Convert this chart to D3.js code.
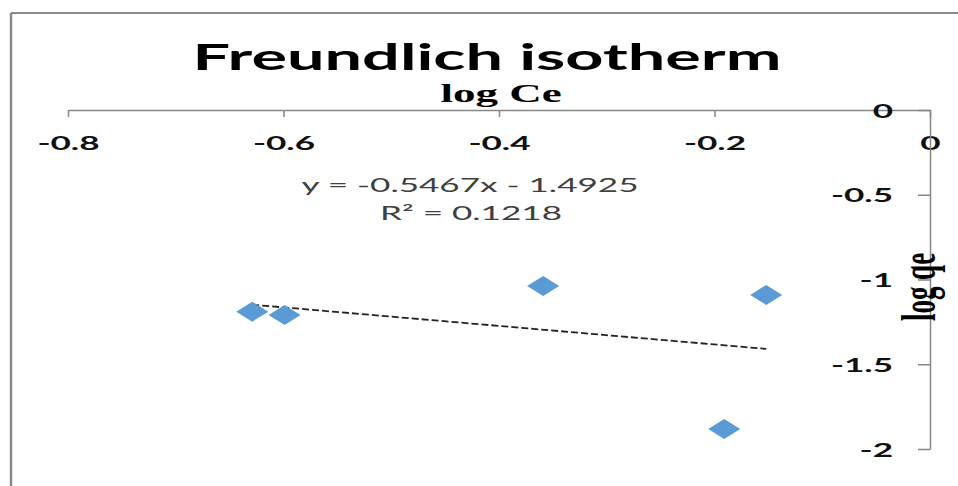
<!DOCTYPE html>
<html>
<head>
<meta charset="utf-8">
<script src="https://cdnjs.cloudflare.com/ajax/libs/d3/7.8.5/d3.min.js"></script>
<style>
  body { margin: 0; background: #fff; }
  svg { display: block; }
</style>
</head>
<body>
<div id="chart"></div>
<script>
// data
const logCe = [-0.629, -0.599, -0.359, -0.152, -0.191]
const logQe = [-1.19, -1.21, -1.038, -1.091, -1.882]
const xTicks = [-0.8, -0.6, -0.4, -0.2, 0]
const yTicks = [0, -0.5, -1, -1.5, -2]
const slope = -0.5467
const intercept = -1.4925
const eqLabel = 'y = -0.5467x - 1.4925'
const r2Label = 'R\u00b2 = 0.1218'

const width = 958, height = 486
const sx = 1.8   // the picture is stretched sideways

const svg = d3.select('#chart').append('svg')
  .attr('width', width)
  .attr('height', height)

// chart border (only top and left show)
svg.append('line').attr('x1', 11).attr('y1', 13).attr('x2', width).attr('y2', 13)
  .attr('stroke', '#8a8a8a').attr('stroke-width', 2)
svg.append('line').attr('x1', 11).attr('y1', 13).attr('x2', 11).attr('y2', height)
  .attr('stroke', '#8a8a8a').attr('stroke-width', 2.5)

const x = d3.scaleLinear().domain([-0.8, 0]).range([68, 930])
const y = d3.scaleLinear().domain([0, -2]).range([110, 449])

function addText(px, py, str, font, size, weight, fill, anchor) {
  return svg.append('text')
    .attr('transform', `translate(${px},${py}) scale(${sx},1)`)
    .attr('text-anchor', anchor || 'middle')
    .style('font-family', font)
    .style('font-size', size + 'px')
    .style('font-weight', weight)
    .attr('fill', fill)
    .text(str)
}

// x axis on top
const xAxis = svg.append('g')
  .attr('transform', `translate(0,${y(0)})`)
  .call(d3.axisBottom(x).tickValues(xTicks).tickSize(7).tickSizeOuter(0).tickFormat(d => String(d)))
xAxis.select('.domain').attr('stroke', '#868686').attr('stroke-width', 1.5)
xAxis.selectAll('.tick line').attr('stroke', '#868686').attr('stroke-width', 1.5)
xAxis.selectAll('.tick text')
  .attr('y', null).attr('dy', null)
  .attr('transform', `translate(0,40) scale(${sx},1)`)
  .style('font-family', 'Lato')
  .style('font-size', '19.5px')
  .style('font-weight', 'bold')
  .attr('fill', '#111')

// y axis on the right end
const yAxis = svg.append('g')
  .attr('transform', `translate(${x(0)},0)`)
  .call(d3.axisLeft(y).tickValues(yTicks).tickSize(12).tickSizeOuter(0).tickFormat(d => String(d)))
yAxis.select('.domain').attr('stroke', '#868686').attr('stroke-width', 1.5)
yAxis.selectAll('.tick line').attr('stroke', '#868686').attr('stroke-width', 1.5)
yAxis.selectAll('.tick text')
  .attr('x', null).attr('dy', null)
  .attr('transform', `translate(-37,7) scale(${sx},1)`)
  .attr('text-anchor', 'end')
  .style('font-family', 'Lato')
  .style('font-size', '19.5px')
  .style('font-weight', 'bold')
  .attr('fill', '#111')

// titles
addText(487, 70, 'Freundlich isotherm', 'Lato', 37, 'bold', '#000')
addText(501, 102, 'log Ce', 'Liberation Serif', 25, 'bold', '#000')
svg.append('text')
  .attr('transform', `translate(935,287) rotate(-90) scale(1,${sx})`)
  .attr('text-anchor', 'middle')
  .style('font-family', 'Liberation Serif')
  .style('font-size', '27px')
  .style('font-weight', 'bold')
  .attr('fill', '#000')
  .text('log qe')

// trendline
const xMin = d3.min(logCe), xMax = d3.max(logCe)
svg.append('line')
  .attr('x1', x(xMin)).attr('y1', y(slope * xMin + intercept))
  .attr('x2', x(xMax)).attr('y2', y(slope * xMax + intercept))
  .attr('stroke', '#222')
  .attr('stroke-width', 1.8)
  .attr('stroke-dasharray', '7,3')

// points
const pts = logCe.map((v, i) => ({ cx: v, cy: logQe[i] }))
svg.selectAll('.pt').data(pts).enter().append('path')
  .attr('class', 'pt')
  .attr('d', 'M-16,0 L0,-10 L16,0 L0,10 Z')
  .attr('transform', d => `translate(${x(d.cx)},${y(d.cy)})`)
  .attr('fill', '#5b9bd5')

// equation labels
addText(470, 192, eqLabel, 'Lato', 19.5, 'normal', '#404040')
addText(471, 220, r2Label, 'Lato', 19.5, 'normal', '#404040')
</script>
</body>
</html>
